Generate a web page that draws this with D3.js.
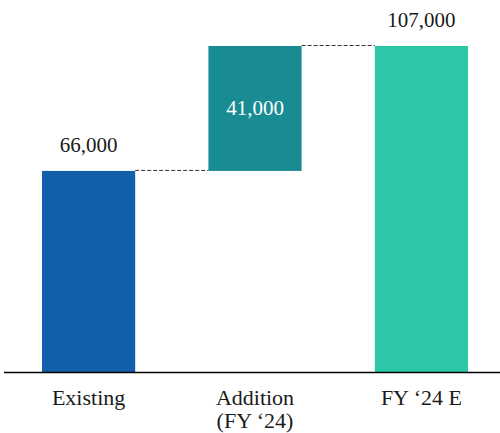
<!DOCTYPE html>
<html>
<head>
<meta charset="utf-8">
<script src="https://cdn.jsdelivr.net/npm/d3@7"></script>
<style>
  body { margin: 0; background: #fff; }
  text { font-family: "Liberation Serif", serif; }
</style>
</head>
<body>
<script>
// waterfall data
const categories = ['Existing', 'Addition\n(FY \u201824)', 'FY \u201824 E'];
const starts = [0, 66000, 0];
const ends = [66000, 107000, 107000];
const valueLabels = ['66,000', '41,000', '107,000'];
const colors = ['#125FAC', '#188C92', '#2BC7A7'];

const width = 500, height = 433;
const baseY = 372;

const svg = d3.select('body')
  .append('svg')
  .attr('width', width)
  .attr('height', height);

const x = d3.scaleBand()
  .domain(categories)
  .range([42, 468])
  .paddingInner(0.44)
  .paddingOuter(0);

const y = d3.scaleLinear()
  .domain([0, 107000])
  .range([baseY, 46]);

const bars = categories.map((c, i) => ({cat: c, s: starts[i], e: ends[i], label: valueLabels[i], color: colors[i]}));

svg.selectAll('.bar')
  .data(bars)
  .enter()
  .append('rect')
  .attr('class', 'bar')
  .attr('x', d => x(d.cat))
  .attr('width', x.bandwidth())
  .attr('y', d => y(d.e))
  .attr('height', d => y(d.s) - y(d.e))
  .attr('fill', d => d.color);

// connectors
for (let i = 0; i < bars.length - 1; i++) {
  svg.append('line')
    .attr('x1', x(bars[i].cat) + x.bandwidth())
    .attr('x2', x(bars[i + 1].cat))
    .attr('y1', y(bars[i].e) - 0.5)
    .attr('y2', y(bars[i].e) - 0.5)
    .attr('stroke', '#333')
    .attr('stroke-width', 1)
    .attr('stroke-dasharray', '4,2');
}

// value labels
svg.selectAll('.val')
  .data(bars)
  .enter()
  .append('text')
  .attr('class', 'val')
  .attr('x', d => x(d.cat) + x.bandwidth() / 2)
  .attr('y', (d, i) => i === 1 ? (y(d.s) + y(d.e)) / 2 + 7 : y(d.e) - 19)
  .attr('text-anchor', 'middle')
  .attr('font-size', 21)
  .attr('fill', (d, i) => i === 1 ? '#fff' : '#1a1a1a')
  .text(d => d.label);

// baseline
svg.append('line')
  .attr('x1', 4)
  .attr('x2', 500)
  .attr('y1', baseY + 0.5)
  .attr('y2', baseY + 0.5)
  .attr('stroke', '#000')
  .attr('stroke-width', 1.5);

// category axis
const axis = svg.append('g')
  .attr('transform', 'translate(0,' + baseY + ')')
  .call(d3.axisBottom(x).tickSize(0).tickFormat(''));
axis.select('.domain').remove();

axis.selectAll('.tick')
  .append('text')
  .attr('text-anchor', 'middle')
  .attr('font-size', 22)
  .attr('fill', '#1a1a1a')
  .each(function(d) {
    const lines = d.split('\n');
    const t = d3.select(this);
    lines.forEach((l, k) => {
      t.append('tspan')
        .attr('x', 0)
        .attr('y', 33 + k * 23)
        .text(l);
    });
  });
</script>
</body>
</html>
